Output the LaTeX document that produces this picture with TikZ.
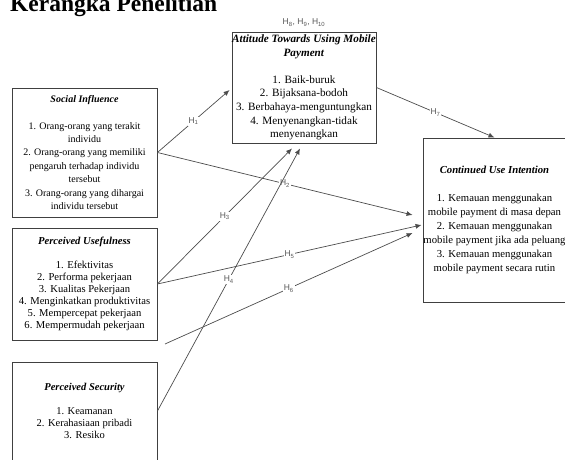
\documentclass[tikz,border=0pt]{standalone}
\usepackage{fontspec}
\setmainfont{Liberation Serif}
\newfontfamily\hfont{Liberation Sans}
\usetikzlibrary{positioning,arrows.meta}

\tikzset{
  varbox/.style={draw=black!75, line width=0.9pt, align=center, inner sep=0pt},
  hypline/.style={draw=black!70, line width=0.7pt, -{Latex[length=6pt,width=5pt]}},
  hyp/.style={fill=white, inner sep=1pt, text=black!65, font=\hfont\fontsize{8.5}{9}\selectfont}
}

\begin{document}
\begin{tikzpicture}[x=1pt,y=1pt]
	\useasboundingbox (0,0) rectangle (565,459);
	\node[anchor=base west, inner sep=0pt, font=\bfseries\fontsize{23.5}{26}\selectfont] (title) at (10,447.5) {Kerangka Penelitian};

	% variables
	\node[varbox, minimum width=145pt, minimum height=129pt, font=\fontsize{10}{13.4}\selectfont] (si) at (84.5,306.5)
	{\textbf{\textit{Social Influence}}\\[13.4pt]
	1. Orang-orang yang terakit\\ individu\\
	2. Orang-orang yang memiliki\\ pengaruh terhadap individu\\ tersebut\\
	3. Orang-orang yang dihargai\\ individu tersebut};
	\node[varbox, minimum width=145pt, minimum height=112pt, font=\fontsize{10.6}{12}\selectfont] (pu) at (84.5,175)
	{\textbf{\textit{Perceived Usefulness}}\\[12pt]
	1. Efektivitas\\ 2. Performa pekerjaan\\ 3. Kualitas Pekerjaan\\
	4. Menginkatkan produktivitas\\ 5. Mempercepat pekerjaan\\ 6. Mempermudah pekerjaan};
	\node[varbox, minimum width=145pt, minimum height=98pt, font=\fontsize{10.5}{12.2}\selectfont] (ps) at (84.5,48)
	{\textbf{\textit{Perceived Security}}\\[12.2pt]
	1. Keamanan\\ 2. Kerahasiaan pribadi\\ 3. Resiko};
	\node[varbox, minimum width=144pt, minimum height=111pt, font=\fontsize{11.2}{13.6}\selectfont] (att) at (304,371.5)
	{\textbf{\textit{Attitude Towards Using Mobile}}\\ \textbf{\textit{Payment}}\\[13.6pt]
	1. Baik-buruk\\ 2. Bijaksana-bodoh\\ 3. Berbahaya-menguntungkan\\
	4. Menyenangkan-tidak\\ menyenangkan};
	\node[varbox, minimum width=143pt, minimum height=164pt, font=\fontsize{10.7}{13.9}\selectfont] (cui) at (494.5,239)
	{\textbf{\textit{Continued Use Intention}}\\[13.9pt]
	1. Kemauan menggunakan\\ mobile payment di masa depan\\
	2. Kemauan menggunakan\\ mobile payment jika ada peluang\\
	3. Kemauan menggunakan\\ mobile payment secara rutin};
	\node[hyp, above=4pt of att] (hatt) {H\textsubscript{8}, H\textsubscript{9}, H\textsubscript{10}};

	% arrow ends
	\coordinate (h1end) at ([xshift=-2pt,yshift=-2.5pt]att.west);
	\coordinate (h3end) at ([xshift=-12pt,yshift=-5pt]att.south);
	\coordinate (h4end) at ([xshift=-4pt,yshift=-5pt]att.south);
	\coordinate (h2end) at ([xshift=-10pt,yshift=5pt]cui.west);
	\coordinate (h5end) at ([xshift=-1pt,yshift=-5pt]cui.west);
	\coordinate (h6end) at ([xshift=-10pt,yshift=-13pt]cui.west);
	\coordinate (h6start) at (165,115);

	% hypotheses
	\draw[hypline] (si.east) -- (h1end) node[hyp, midway] {H\textsubscript{1}};
	\draw[hypline] (si.east) -- (h2end) node[hyp, midway] {H\textsubscript{2}};
	\draw[hypline] (pu.east) -- (h3end) node[hyp, midway] {H\textsubscript{3}};
	\draw[hypline] (ps.east) -- (h4end) node[hyp, midway] {H\textsubscript{4}};
	\draw[hypline] (pu.east) -- (h5end) node[hyp, midway] {H\textsubscript{5}};
	\draw[hypline] (h6start) -- (h6end) node[hyp, midway] {H\textsubscript{6}};
	\draw[hypline] (att.east) -- (cui.north) node[hyp, midway] {H\textsubscript{7}};
\end{tikzpicture}
\end{document}
